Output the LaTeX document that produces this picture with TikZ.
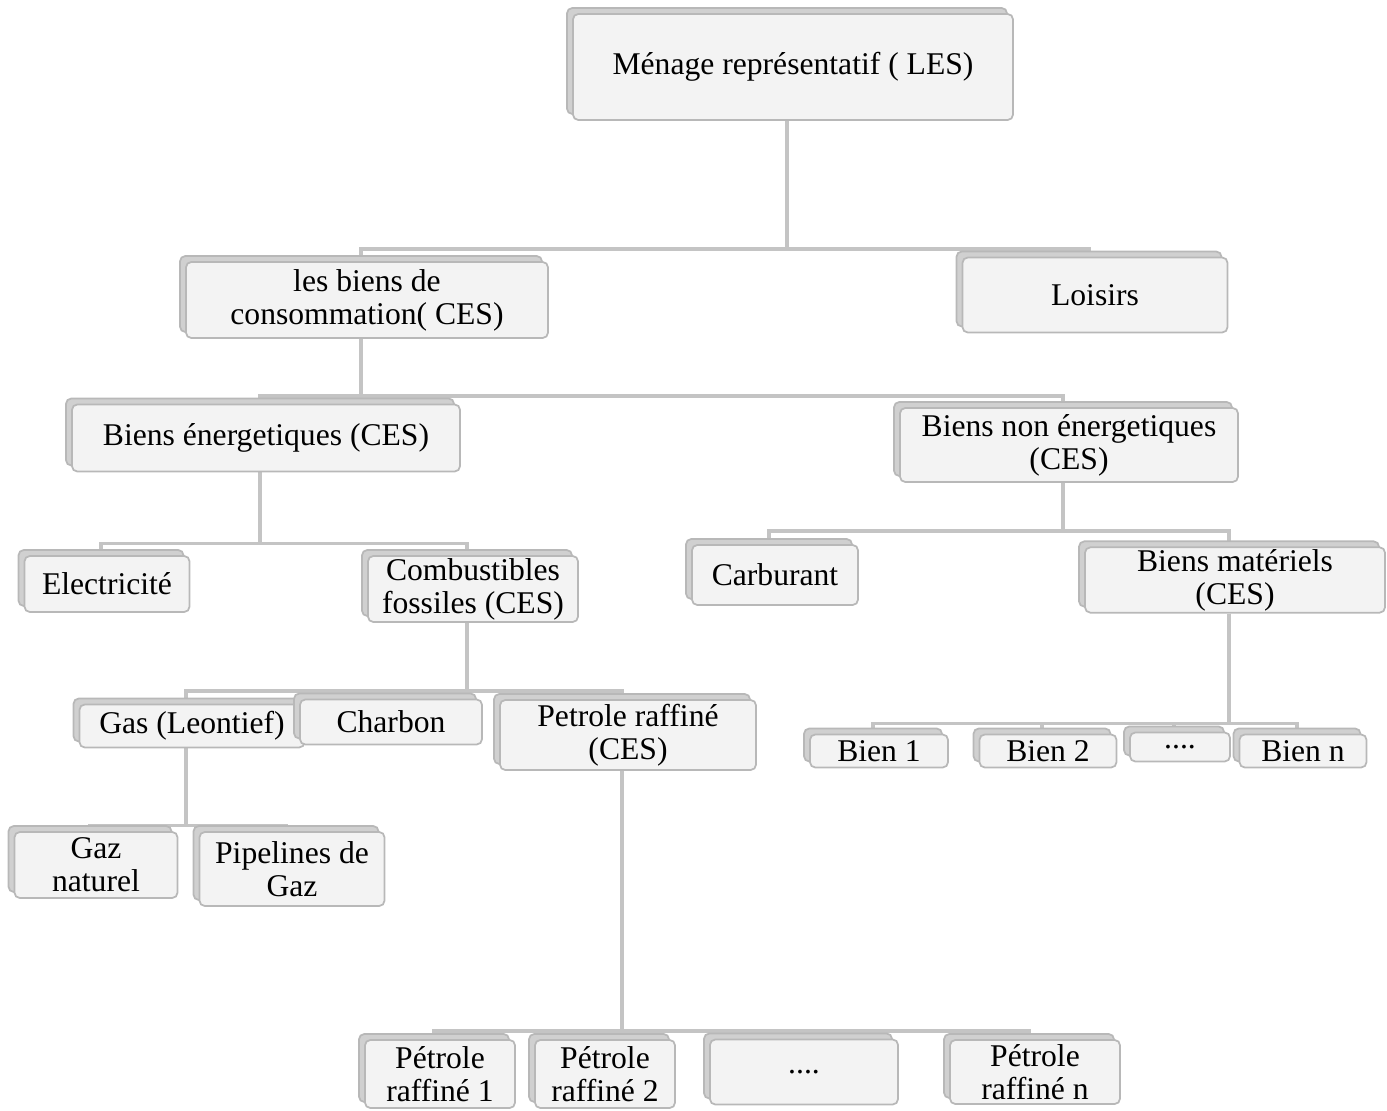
\documentclass[tikz,border=0pt]{standalone}
\usepackage{fontspec}
\setmainfont{Liberation Serif}
\usetikzlibrary{shadows,backgrounds,positioning}
\definecolor{linegray}{RGB}{196,196,196}
\definecolor{boxgray}{RGB}{243,243,243}
\definecolor{backgray}{RGB}{208,208,208}
\definecolor{edgegray}{RGB}{184,184,184}

\begin{document}
\begin{tikzpicture}[x=0.02cm, y=-0.02cm,
	box/.style={draw=edgegray, line width=1pt, rounded corners=3pt, fill=boxgray, align=center, inner sep=1pt, text=black, font=\fontsize{18}{18.8}\selectfont, copy shadow={shadow xshift=-0.12cm, shadow yshift=0.12cm, fill=backgray, draw=edgegray, line width=1pt}},
	sz/.style 2 args={minimum width=#1*0.02cm, minimum height=#2*0.02cm},
	treeLine/.style={line width=2.1pt, color=linegray},
	elbow/.style={to path={([xshift=-0.12cm]\tikztostart) -- ++(0,#1) -| ([xshift=-0.12cm]\tikztotarget)}}
	]
	\useasboundingbox (0,0) rectangle (1387,1111);

	% level 0 and 1
	\node[box, sz={440}{106}] (menage) at (793,67) {Ménage représentatif ( LES)};
	\node[box, sz={362}{76}] (conso) at (367,300) {les biens de\\consommation( CES)};
	\node[box, sz={265}{75}] (loisirs) at (1095,295) {Loisirs};

	% level 2
	\node[box, sz={388}{67}] (energ) at (266,438) {Biens énergetiques (CES)};
	\node[box, sz={338}{74}] (nonenerg) at (1069,445) {Biens non énergetiques\\(CES)};

	% level 3
	\node[box, sz={165}{56}] (elec) at (107,584) {Electricité};
	\node[box, sz={210}{66}] (combust) at (473,589) {Combustibles\\fossiles (CES)};
	\node[box, sz={166}{60}] (carbu) at (775,575) {Carburant};
	\node[box, sz={300}{64}] (materiels) at (1235,580) {Biens matériels\\(CES)};

	% level 4
	\node[box, sz={225}{43}] (gas) at (192,726) {Gas (Leontief)};
	\node[box, sz={182}{45}] (charbon) at (391,722) {Charbon};
	\node[box, sz={256}{70}] (petrole) at (628,735) {Petrole raffiné\\(CES)};
	\node[box, sz={138}{33}] (bien1) at (879,751) {Bien 1};
	\node[box, sz={137}{33}] (bien2) at (1048,751) {Bien 2};
	\node[box, sz={100}{29}] (biendots) at (1180,747) {....};
	\node[box, sz={127}{33}] (bienn) at (1303,751) {Bien n};

	% level 5
	\node[box, sz={163}{66}] (gaznat) at (96,865) {Gaz\\naturel};
	\node[box, sz={185}{74}] (pipe) at (292,869) {Pipelines de\\Gaz};

	% level 6
	\node[box, sz={150}{68}] (pr1) at (440,1074) {Pétrole\\raffiné 1};
	\node[box, sz={140}{68}] (pr2) at (605,1074) {Pétrole\\raffiné 2};
	\node[box, sz={188}{65}] (prdots) at (804,1072) {....};
	\node[box, sz={170}{64}] (prn) at (1035,1072) {Pétrole\\raffiné n};

	\begin{scope}[on background layer]
	\draw [treeLine] (menage.south) to [elbow=128] (conso.north);
	\draw [treeLine] (menage.south) to [elbow=128] (loisirs.north);
	\draw [treeLine] (conso.south) to [elbow=57] (energ.north);
	\draw [treeLine] (conso.south) to [elbow=57] (nonenerg.north);
	\draw [treeLine] (energ.south) to [elbow=71] (elec.north);
	\draw [treeLine] (energ.south) to [elbow=71] (combust.north);
	\draw [treeLine] (nonenerg.south) to [elbow=48] (carbu.north);
	\draw [treeLine] (nonenerg.south) to [elbow=48] (materiels.north);
	\draw [treeLine] (combust.south) to [elbow=68] (gas.north);
	\draw [treeLine] (combust.south) to [elbow=68] (charbon.north);
	\draw [treeLine] (combust.south) to [elbow=68] (petrole.north);
	\draw [treeLine] (materiels.south) to [elbow=110] (bien1.north);
	\draw [treeLine] (materiels.south) to [elbow=110] (bien2.north);
	\draw [treeLine] (materiels.south) to [elbow=110] (biendots.north);
	\draw [treeLine] (materiels.south) to [elbow=110] (bienn.north);
	\draw [treeLine] (gas.south) to [elbow=77] (gaznat.north);
	\draw [treeLine] (gas.south) to [elbow=77] (pipe.north);
	\draw [treeLine] (petrole.south) to [elbow=260] (pr1.north);
	\draw [treeLine] (petrole.south) to [elbow=260] (pr2.north);
	\draw [treeLine] (petrole.south) to [elbow=260] (prdots.north);
	\draw [treeLine] (petrole.south) to [elbow=260] (prn.north);
	\end{scope}
\end{tikzpicture}
\end{document}
